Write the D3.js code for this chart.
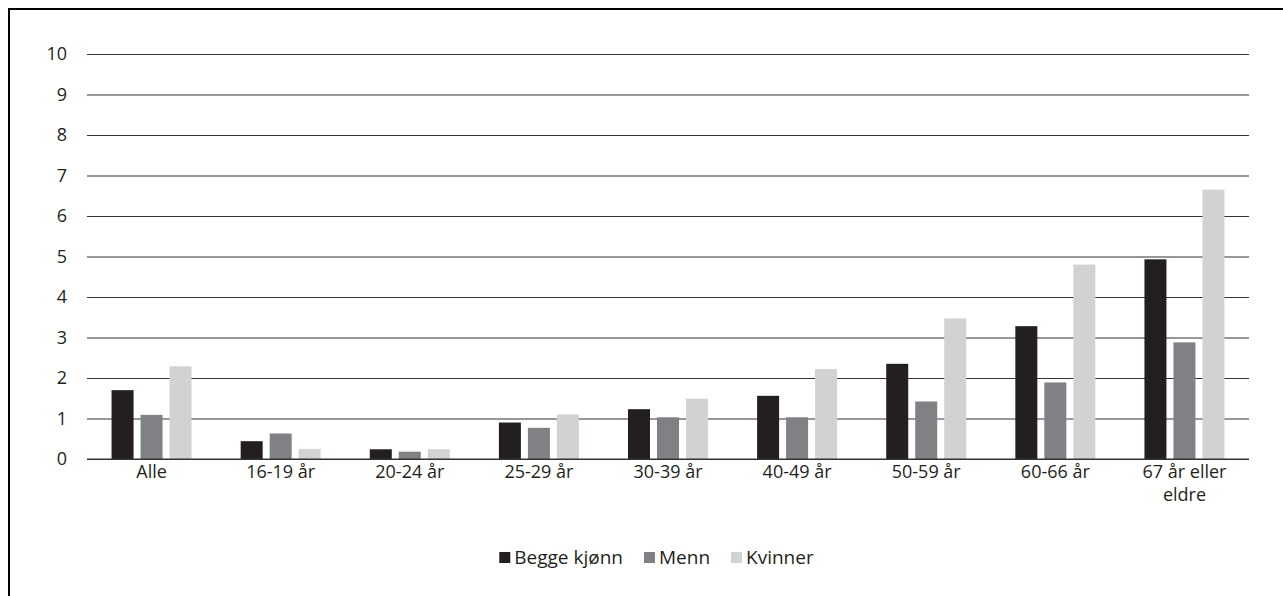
<!DOCTYPE html>
<html>
<head>
<meta charset="utf-8">
<script src="https://cdn.jsdelivr.net/npm/d3@7"></script>
<style>
  html, body { margin: 0; padding: 0; background: #fff; }
  svg { display: block; }
  text { font-family: "Open Sans", sans-serif; fill: #231f20; }
</style>
</head>
<body>
<svg id="chart" width="1283" height="596"></svg>
<script>
const categories = ["Alle", "16-19 år", "20-24 år", "25-29 år", "30-39 år", "40-49 år", "50-59 år", "60-66 år", "67 år eller eldre"];
const seriesNames = ["Begge kjønn", "Menn", "Kvinner"];
const beggeKjonn = [1.70, 0.44, 0.24, 0.90, 1.23, 1.56, 2.35, 3.28, 4.93];
const menn       = [1.09, 0.63, 0.18, 0.77, 1.03, 1.03, 1.42, 1.89, 2.88];
const kvinner    = [2.29, 0.25, 0.24, 1.10, 1.49, 2.22, 3.47, 4.80, 6.65];
const yTicks = [0, 1, 2, 3, 4, 5, 6, 7, 8, 9, 10];
const colors = ["#231f20", "#808184", "#d1d2d4"];

const seriesValues = [beggeKjonn, menn, kvinner];
const svg = d3.select("#chart");

// frame
svg.append("path")
  .attr("d", "M9,596 V9 H1283")
  .attr("fill", "none").attr("stroke", "#000").attr("stroke-width", 2);

const mLeft = 87, mRight = 1249, mTop = 54, mBottom = 459;
const x = d3.scaleBand().domain(categories).range([mLeft, mRight]).padding(0);
const y = d3.scaleLinear().domain([0, 10]).range([mBottom, mTop]);
const groupW = 80;
const x1 = d3.scaleBand().domain(seriesNames)
  .range([x.bandwidth() / 2 - groupW / 2, x.bandwidth() / 2 + groupW / 2])
  .paddingInner(7 / 29).paddingOuter(0);

// grid lines
const yAxis = d3.axisLeft(y).tickValues(yTicks).tickSize(-(mRight - mLeft)).tickPadding(20).tickFormat(d3.format("d"));
const gy = svg.append("g").attr("transform", `translate(${mLeft},0)`).call(yAxis);
gy.select(".domain").remove();
gy.selectAll(".tick line").attr("stroke", "#333").attr("stroke-width", 1.2);
gy.selectAll(".tick text").attr("font-size", "18px").attr("fill", "#231f20")
  .style("font-family", "'Open Sans', sans-serif");

// bars
const groups = svg.append("g").selectAll("g")
  .data(categories).join("g")
  .attr("transform", d => `translate(${x(d)},0)`);
groups.selectAll("rect")
  .data((c, i) => seriesNames.map((s, j) => ({ s, j, v: seriesValues[j][i] })))
  .join("rect")
  .attr("x", d => x1(d.s))
  .attr("width", x1.bandwidth())
  .attr("y", d => y(d.v))
  .attr("height", d => y(0) - y(d.v))
  .attr("fill", d => colors[d.j]);

// x axis baseline
svg.append("line").attr("x1", mLeft).attr("x2", mRight)
  .attr("y1", y(0)).attr("y2", y(0)).attr("stroke", "#333").attr("stroke-width", 1.2);

// category labels
const xAxis = d3.axisBottom(x).tickSize(0).tickPadding(0);
const gx = svg.append("g").attr("transform", `translate(0,${mBottom})`).call(xAxis);
gx.select(".domain").remove();
gx.selectAll(".tick text").each(function(d) {
  const t = d3.select(this);
  t.text(null).attr("font-size", "18px").attr("fill", "#231f20").attr("y", 0).attr("dy", null)
    .style("font-family", "'Open Sans', sans-serif");
  const lines = d === "67 år eller eldre" ? ["67 år eller", "eldre"] : [d];
  lines.forEach((ln, k) => {
    t.append("tspan").attr("x", 0).attr("y", 19 + k * 23).text(ln);
  });
});

// legend
const legend = svg.append("g");
const items = legend.selectAll("g").data(seriesNames).join("g");
items.append("rect").attr("width", 11).attr("height", 11).attr("y", -12)
  .attr("fill", (d, i) => colors[i]);
items.append("text").attr("x", 15).attr("y", 0).attr("font-size", "19px").text(d => d);
let cx = 0;
const positions = [];
items.each(function(d, i) {
  const w = 15 + d3.select(this).select("text").node().getComputedTextLength();
  positions.push(cx);
  cx += w + 21;
});
const totalW = cx - 21;
const startX = 656.5 - totalW / 2;
items.attr("transform", (d, i) => `translate(${startX + positions[i]},564)`);
</script>
</body>
</html>
